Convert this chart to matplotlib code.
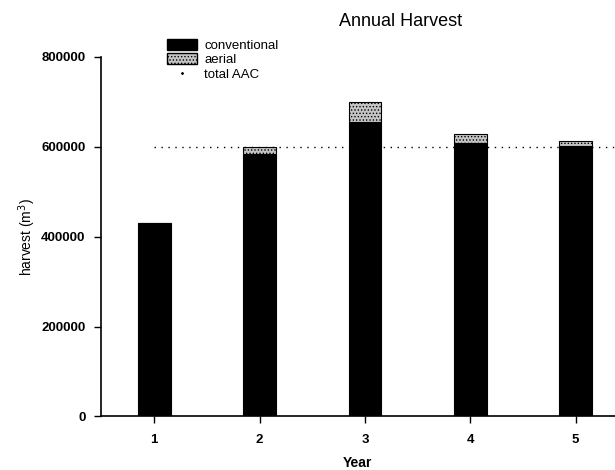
import matplotlib
matplotlib.use("Agg")
import matplotlib.pyplot as plt
from matplotlib.patches import Patch
from matplotlib.lines import Line2D

plt.rcParams['font.family'] = ['Liberation Sans', 'DejaVu Sans']
plt.rcParams['hatch.linewidth'] = 0.6

years = [1, 2, 3, 4, 5]
conventional = [431000, 584000, 654000, 609000, 601000]
aerial = [0, 16000, 46000, 20000, 12000]
aac_years = [1.0, 5.5]
aac = [600000, 600000]

fig = plt.figure(figsize=(6.15, 4.70), dpi=100)
ax = fig.add_axes([0.164, 0.114, 0.836, 0.765])

w = 0.31
ax.bar(years, conventional, width=w, color='black', edgecolor='black', linewidth=0.8)
ax.bar(years, aerial, width=w, bottom=conventional, color='#c4c4c4', edgecolor='black',
       hatch='.....', linewidth=0.8)
ax.plot(aac_years, aac, linestyle=(0, (1, 4)), color='black', linewidth=1.0)

ax.set_xlim(0.494, 5.373)
ax.set_ylim(0, 800000)
ax.set_xticks(years)
ax.set_yticks([0, 200000, 400000, 600000, 800000])
ax.set_yticklabels(['0', '200000', '400000', '600000', '800000'])
for lab in ax.get_xticklabels() + ax.get_yticklabels():
    lab.set_fontweight('bold')
    lab.set_fontsize(9.5)
ax.tick_params(direction='out', length=5, width=1)
ax.tick_params(axis='y', pad=6)
ax.tick_params(axis='x', pad=8)
ax.spines['top'].set_visible(False)
ax.spines['right'].set_visible(False)
ax.spines['left'].set_linewidth(1.2)
ax.spines['bottom'].set_linewidth(1.2)

ax.set_xlabel('Year', fontsize=10, fontweight='bold', labelpad=7)
ax.set_ylabel('harvest (m$^3$)', fontsize=10, labelpad=2)
fig.text(0.652, 0.955, 'Annual Harvest', ha='center', va='center', fontsize=13)

handles = [Patch(facecolor='black', edgecolor='black'),
           Patch(facecolor='#c4c4c4', edgecolor='black', hatch='.....'),
           Line2D([0], [0], marker='.', markersize=2, linestyle='none', color='black')]
ax.legend(handles, ['conventional', 'aerial', 'total AAC'], loc='upper left',
          bbox_to_anchor=(0.118, 1.065), frameon=False, fontsize=9.5,
          handlelength=2.3, handleheight=0.9, labelspacing=0.12, handletextpad=0.55,
          borderaxespad=0)

fig.savefig('out.png', dpi=100)
